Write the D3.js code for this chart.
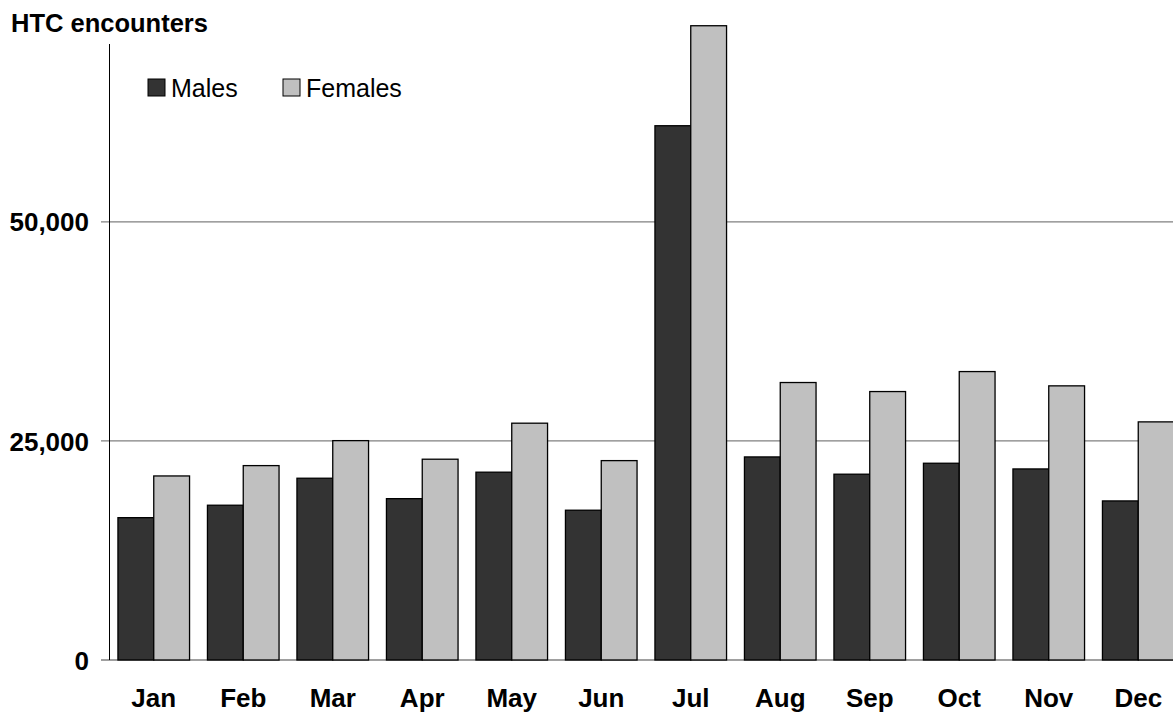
<!DOCTYPE html>
<html>
<head>
<meta charset="UTF-8">
<style>
  body { margin: 0; background: #fff; overflow: hidden; }
  svg { display: block; font-family: "Liberation Sans", Arial, sans-serif; }
  .grid { stroke: #808080; stroke-width: 1.3px; }
  .bar { stroke: #000; stroke-width: 1.3px; }
</style>
</head>
<body>
<div id="chart"></div>
<script src="https://cdn.jsdelivr.net/npm/d3@7"></script>
<script>
// data
const months = ['Jan','Feb','Mar','Apr','May','Jun','Jul','Aug','Sep','Oct','Nov','Dec'];
const males   = [16240, 17660, 20740, 18410, 21430, 17090, 60960, 23170, 21200, 22450, 21800, 18150];
const females = [21000, 22180, 25030, 22910, 27020, 22750, 72370, 31660, 30630, 32910, 31280, 27170];
const yTicks = [0, 25000, 50000];
const series = ['Males', 'Females'];
const colors = ['#333333', '#c0c0c0'];

const W = 1173, H = 712;
const svg = d3.select('#chart').append('svg').attr('width', W).attr('height', H);

// plot runs a bit past the right edge, like the original
const x = d3.scaleBand().domain(months).range([109, 1183]).paddingInner(0.2).paddingOuter(0.1);
const xs = d3.scaleBand().domain(series).range([0, x.bandwidth()]);
const y = d3.scaleLinear().domain([0, 70400]).range([660, 43]);

// gridlines + tick labels
const grid = svg.append('g');
grid.selectAll('line').data(yTicks).join('line')
  .attr('class', 'grid')
  .attr('x1', 101).attr('x2', W)
  .attr('y1', d => y(d)).attr('y2', d => y(d));
grid.selectAll('text').data(yTicks).join('text')
  .attr('x', 89).attr('y', d => y(d)).attr('dy', '0.37em')
  .attr('text-anchor', 'end')
  .attr('font-size', 26).attr('font-weight', 'bold')
  .text(d => d3.format(',')(d));

// bars
const rows = months.map((m, i) => ({ m, vals: [males[i], females[i]] }));
const grp = svg.append('g').selectAll('g').data(rows).join('g')
  .attr('transform', d => `translate(${x(d.m)},0)`);
grp.selectAll('rect').data(d => d.vals.map((v, j) => ({ s: series[j], v, c: colors[j] }))).join('rect')
  .attr('class', 'bar')
  .attr('x', d => xs(d.s)).attr('width', xs.bandwidth())
  .attr('y', d => y(d.v)).attr('height', d => y(0) - y(d.v))
  .attr('fill', d => d.c);

// y axis line
svg.append('line')
  .attr('x1', 109.5).attr('x2', 109.5)
  .attr('y1', 44).attr('y2', y(0))
  .attr('stroke', '#000').attr('stroke-width', 1);

// month labels
svg.append('g').selectAll('text').data(months).join('text')
  .attr('x', d => x(d) + x.bandwidth() / 2).attr('y', 707)
  .attr('text-anchor', 'middle')
  .attr('font-size', 26).attr('font-weight', 'bold')
  .text(d => d);

// title
svg.append('text').attr('x', 11).attr('y', 32)
  .attr('font-size', 25.5).attr('font-weight', 'bold')
  .text('HTC encounters');

// legend
const legX = [148, 283];
const leg = svg.append('g').selectAll('g').data(series).join('g')
  .attr('transform', (d, i) => `translate(${legX[i]},79)`);
leg.append('rect').attr('width', 17).attr('height', 17)
  .attr('fill', (d, i) => colors[i]).attr('stroke', '#000').attr('stroke-width', 1);
leg.append('text').attr('x', 23).attr('y', 17.5)
  .attr('font-size', 25)
  .text(d => d);
</script>
</body>
</html>
